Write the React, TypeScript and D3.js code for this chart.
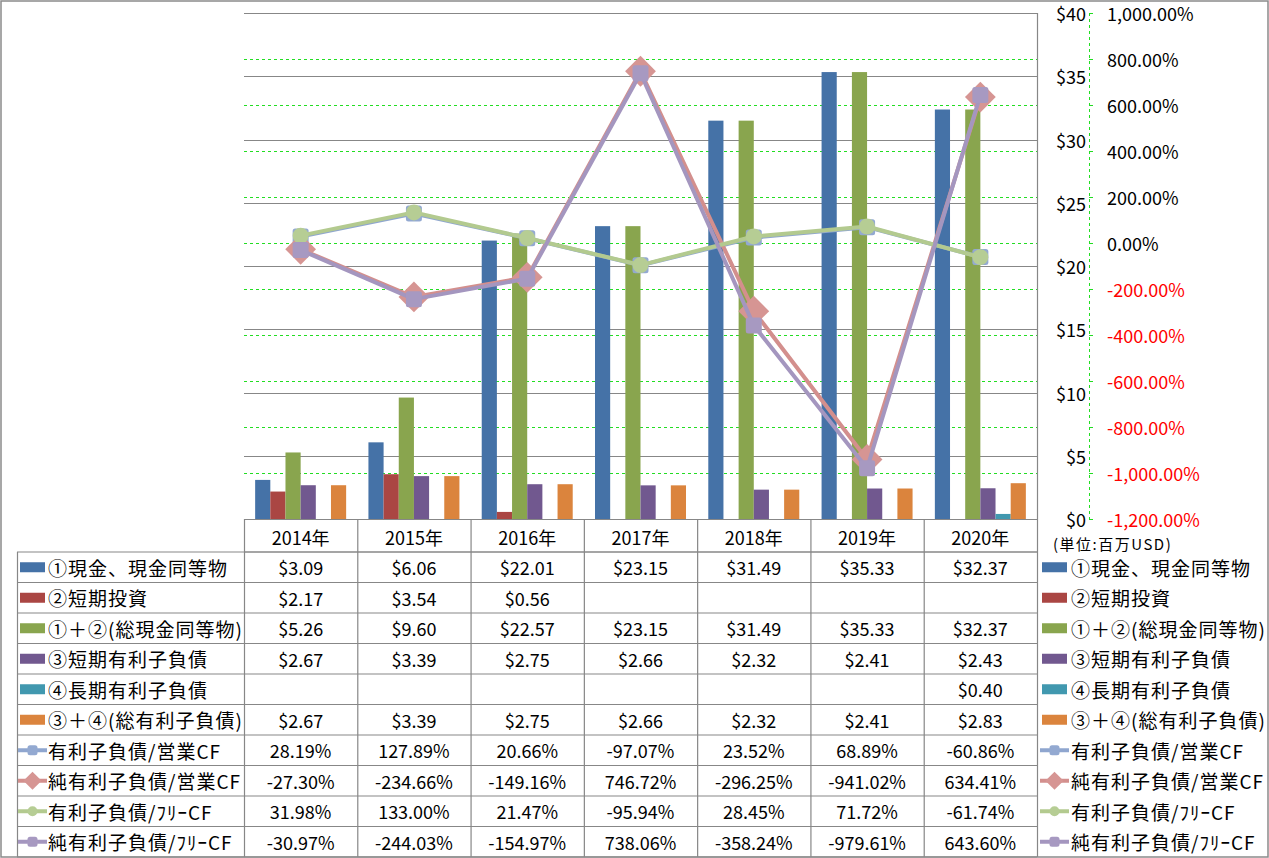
import React from 'react';
import * as d3 from 'd3';

const years = ['2014年', '2015年', '2016年', '2017年', '2018年', '2019年', '2020年'];

const cashEq: (number | null)[] = [3.09, 6.06, 22.01, 23.15, 31.49, 35.33, 32.37];
const shortInv: (number | null)[] = [2.17, 3.54, 0.56, null, null, null, null];
const totalCash: (number | null)[] = [5.26, 9.6, 22.57, 23.15, 31.49, 35.33, 32.37];
const shortDebt: (number | null)[] = [2.67, 3.39, 2.75, 2.66, 2.32, 2.41, 2.43];
const longDebt: (number | null)[] = [null, null, null, null, null, null, 0.4];
const totalDebt: (number | null)[] = [2.67, 3.39, 2.75, 2.66, 2.32, 2.41, 2.83];

const debtOpCF = [28.19, 127.89, 20.66, -97.07, 23.52, 68.89, -60.86];
const netDebtOpCF = [-27.3, -234.66, -149.16, 746.72, -296.25, -941.02, 634.41];
const debtFreeCF = [31.98, 133.0, 21.47, -95.94, 28.45, 71.72, -61.74];
const netDebtFreeCF = [-30.97, -244.03, -154.97, 738.06, -358.24, -979.61, 643.6];

const leftTicks = [0, 5, 10, 15, 20, 25, 30, 35, 40];
const rightTicks = [-1200, -1000, -800, -600, -400, -200, 0, 200, 400, 600, 800, 1000];

const barSeriesNames = ['①現金、現金同等物', '②短期投資', '①＋②(総現金同等物)', '③短期有利子負債', '④長期有利子負債', '③＋④(総有利子負債)'];
const lineSeriesNames = ['有利子負債/営業CF', '純有利子負債/営業CF', '有利子負債/ﾌﾘｰCF', '純有利子負債/ﾌﾘｰCF'];
const unitLabel = '(単位:百万USD)';

const FONT = "'Noto Sans CJK JP', 'Noto Sans', sans-serif";
const GRID = '#878787';
const GREEN = '#22dd22';

const locale = d3.formatLocale({ decimal: '.', thousands: ',', grouping: [3], currency: ['$', ''], minus: '-' });
const fmtMoney = locale.format('$.2f');
const fmtMoneyAxis = locale.format('$.0f');
const fmtPctAxis = (v: number) => locale.format(',.2f')(v) + '%';
const fmtPct = (v: number) => locale.format('.2f')(v) + '%';

type Marker = 'square' | 'diamond' | 'circle';

function MarkerShape({ type, cx, cy, size, color }: { type: Marker; cx: number; cy: number; size: number; color: string }) {
  if (type === 'circle') return <circle cx={cx} cy={cy} r={size / 2} fill={color} />;
  if (type === 'diamond') {
    const s = size * 0.7;
    return <path d={`M${cx},${cy - s} L${cx + s},${cy} L${cx},${cy + s} L${cx - s},${cy} Z`} fill={color} />;
  }
  return <rect x={cx - size / 2} y={cy - size / 2} width={size} height={size} rx={2.5} fill={color} />;
}

export default function App() {
  const W = 1269, H = 858;
  const left = 244, right = 1037, top = 13, bottom = 519;
  const tableTop = 552, rowH = 30.5, tableLeft = 17;

  const x = d3.scaleBand<string>().domain(years).range([left, right]).padding(0);
  const yL = d3.scaleLinear().domain([0, 40]).range([bottom, top]);
  const yR = d3.scaleLinear().domain([-1200, 1000]).range([bottom, top]);

  const bars = [
    { name: barSeriesNames[0], values: cashEq, color: '#4572a7' },
    { name: barSeriesNames[1], values: shortInv, color: '#aa4643' },
    { name: barSeriesNames[2], values: totalCash, color: '#89a54e' },
    { name: barSeriesNames[3], values: shortDebt, color: '#71588f' },
    { name: barSeriesNames[4], values: longDebt, color: '#4198af' },
    { name: barSeriesNames[5], values: totalDebt, color: '#db843d' },
  ];
  const lines: { name: string; values: number[]; color: string; marker: Marker; mcolor: string }[] = [
    { name: lineSeriesNames[0], values: debtOpCF, color: '#8fa6cf', marker: 'square', mcolor: '#93a9d1' },
    { name: lineSeriesNames[1], values: netDebtOpCF, color: '#d38f8d', marker: 'diamond', mcolor: '#d69593' },
    { name: lineSeriesNames[2], values: debtFreeCF, color: '#b3ca8f', marker: 'circle', mcolor: '#b6cd94' },
    { name: lineSeriesNames[3], values: netDebtFreeCF, color: '#a496bf', marker: 'square', mcolor: '#a799c1' },
  ];

  const inner = d3.scaleBand<number>().domain(d3.range(bars.length)).range([0, x.bandwidth()]).paddingInner(0).paddingOuter(0.735);
  const cx = (y: string) => (x(y) as number) + x.bandwidth() / 2;

  const rowY = (i: number) => tableTop + rowH * i + rowH / 2;
  const rows = [
    ...bars.map((b) => ({ name: b.name, kind: 'bar' as const, color: b.color, cells: b.values.map((v) => (v == null ? '' : fmtMoney(v))), marker: 'square' as Marker })),
    ...lines.map((l) => ({ name: l.name, kind: 'line' as const, color: l.color, cells: l.values.map((v) => fmtPct(v)), marker: l.marker, mcolor: l.mcolor })),
  ];

  const legendKey = (r: any, kx: number, ky: number) =>
    r.kind === 'bar' ? (
      <rect x={kx} y={ky - 5} width={25} height={10} fill={r.color} />
    ) : (
      <g>
        <line x1={kx - 2} x2={kx + 27} y1={ky} y2={ky} stroke={r.color} strokeWidth={4} />
        <MarkerShape type={r.marker} cx={kx + 12.5} cy={ky} size={r.marker === 'diamond' ? 13 : 10} color={r.mcolor} />
      </g>
    );

  return (
    <svg width={W} height={H} style={{ position: 'absolute', left: 0, top: 0, background: '#fff' }} fontFamily={FONT}>
      <rect x={0} y={0} width={W} height={H} fill="#fff" />
      {/* secondary gridlines */}
      {rightTicks.slice(1, -1).map((t) => (
        <line key={'g' + t} x1={left} x2={right} y1={Math.round(yR(t)) + 0.5} y2={Math.round(yR(t)) + 0.5} stroke={GREEN} strokeDasharray="3,3" strokeWidth={1} />
      ))}
      {/* primary gridlines */}
      {leftTicks.map((t) => (
        <line key={'p' + t} x1={left} x2={right} y1={Math.round(yL(t)) + 0.5} y2={Math.round(yL(t)) + 0.5} stroke={GRID} strokeWidth={1.2} />
      ))}
      <line x1={right + 0.5} x2={right + 0.5} y1={top} y2={bottom} stroke={GRID} strokeWidth={1.2} />

      {/* bars */}
      {bars.map((b, si) =>
        b.values.map((v, i) =>
          v == null ? null : (
            <rect key={`b${si}-${i}`} x={(x(years[i]) as number) + (inner(si) as number)} y={yL(v)} width={inner.bandwidth()} height={bottom - yL(v)} fill={b.color} />
          )
        )
      )}

      {/* lines */}
      {lines.map((l, li) => {
        const path = d3.line<number>().x((_, i) => cx(years[i])).y((v) => yR(v))(l.values) as string;
        return (
          <g key={'l' + li}>
            <path d={path} fill="none" stroke={l.color} strokeWidth={4} strokeLinejoin="round" />
            {l.values.map((v, i) => (
              <MarkerShape key={i} type={l.marker} cx={cx(years[i])} cy={yR(v)} size={l.marker === 'diamond' ? 22 : 16} color={l.mcolor} />
            ))}
          </g>
        );
      })}

      {/* primary ($) axis labels, drawn at right */}
      {leftTicks.map((t) => (
        <text key={'lt' + t} x={1086} y={yL(t)} textAnchor="end" dominantBaseline="central" fontSize={18} fill="#000">
          {fmtMoneyAxis(t)}
        </text>
      ))}
      {/* secondary axis */}
      <line x1={1089.5} x2={1089.5} y1={top} y2={bottom} stroke={GREEN} strokeDasharray="3,3" strokeWidth={1} />
      {rightTicks.map((t) => (
        <g key={'rt' + t}>
          <line x1={1089} x2={1093} y1={Math.round(yR(t)) + 0.5} y2={Math.round(yR(t)) + 0.5} stroke={GREEN} strokeWidth={1} />
          <text x={1107} y={yR(t)} dominantBaseline="central" fontSize={18} fill={t < 0 ? '#ff0000' : '#000'}>
            {fmtPctAxis(t)}
          </text>
        </g>
      ))}
      <text x={1053} y={543} dominantBaseline="central" fontSize={15} letterSpacing={1.5} fill="#000">
        {unitLabel}
      </text>

      {/* data table */}
      <g stroke={GRID} strokeWidth={1.2}>
        <line x1={left} x2={right} y1={tableTop} y2={tableTop} />
        {rows.map((_, i) => (
          <line key={'h' + i} x1={tableLeft} x2={right} y1={tableTop + rowH * (i + 1)} y2={tableTop + rowH * (i + 1)} />
        ))}
        <line x1={tableLeft} x2={right} y1={tableTop} y2={tableTop} />
        <line x1={tableLeft + 0.5} x2={tableLeft + 0.5} y1={tableTop} y2={tableTop + rowH * rows.length} />
        {years.map((y, i) => (
          <line key={'v' + i} x1={(x(y) as number) + 0.5} x2={(x(y) as number) + 0.5} y1={bottom} y2={tableTop + rowH * rows.length} />
        ))}
        <line x1={right + 0.5} x2={right + 0.5} y1={bottom} y2={tableTop + rowH * rows.length} />
      </g>
      {years.map((y) => (
        <text key={'yl' + y} x={cx(y)} y={(bottom + tableTop) / 2 + 1} textAnchor="middle" dominantBaseline="central" fontSize={18} fill="#000">
          {y}
        </text>
      ))}
      {rows.map((r, i) => (
        <g key={'row' + i}>
          {legendKey(r, 20, rowY(i))}
          <text x={48} y={rowY(i)} dominantBaseline="central" fontSize={19} letterSpacing={1} fill="#000">
            {r.name}
          </text>
          {r.cells.map((c, j) => (
            <text key={j} x={cx(years[j])} y={rowY(i)} textAnchor="middle" dominantBaseline="central" fontSize={18} fill="#000">
              {c}
            </text>
          ))}
          {legendKey(r, 1042, rowY(i))}
          <text x={1071} y={rowY(i)} dominantBaseline="central" fontSize={19} letterSpacing={1} fill="#000">
            {r.name}
          </text>
        </g>
      ))}

      {/* outer border */}
      <rect x={1} y={1} width={1267} height={856} fill="none" stroke="#8a8a8a" strokeWidth={1.5} />
    </svg>
  );
}
